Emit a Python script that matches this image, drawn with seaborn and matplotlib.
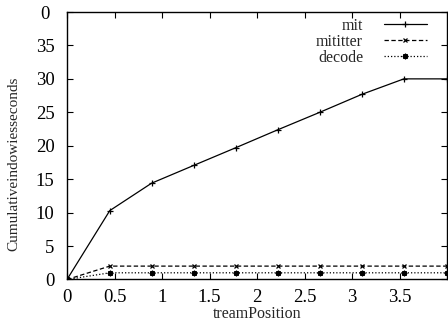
import numpy as np
import pandas as pd
import matplotlib
matplotlib.use("Agg")
import matplotlib.pyplot as plt
import matplotlib.transforms as mtransforms
import seaborn as sns

# values
position = [0, 0.45, 0.89, 1.335, 1.775, 2.22, 2.66, 3.105, 3.545, 4.0]
mit = [0, 10.3, 14.4, 17.07, 19.7, 22.4, 25.0, 27.7, 30.0, 30.0]
mititter = [0, 2.0, 2.0, 2.0, 2.0, 2.0, 2.0, 2.0, 2.0, 2.0]
decode = [0, 1.0, 1.0, 1.0, 1.0, 1.0, 1.0, 1.0, 1.0, 1.0]

xticks = [0, 0.5, 1, 1.5, 2, 2.5, 3, 3.5]
xticklabels = ["0", "0.5", "1", "1.5", "2", "2.5", "3", "3.5"]
yticks = [0, 5, 10, 15, 20, 25, 30, 35, 40]
yticklabels = ["0", "5", "10", "15", "20", "25", "30", "35", "0"]

sns.set_style("ticks")
plt.rcParams['font.family'] = ['Liberation Serif', 'DejaVu Serif']
plt.rcParams['font.size'] = 11.5

fig = plt.figure(figsize=(4.48, 3.27), dpi=100)
ax = fig.add_axes([0.1496, 0.1453, 0.998 - 0.1496, 0.9633 - 0.1453])

df = pd.DataFrame({'pos': position, 'mit': mit, 'mititter': mititter, 'decode': decode})

common = dict(ax=ax, color='black', lw=0.9, mec='black', mew=0.9)
sns.lineplot(data=df, x='pos', y='mit', marker='+', markersize=4.5,
             label='mit', **common)
sns.lineplot(data=df, x='pos', y='mititter', marker='x', markersize=3.5,
             dashes=(3.5, 2), label='mititter', **common)
sns.lineplot(data=df, x='pos', y='decode', marker=(8, 2, 0), markersize=4,
             dashes=(1, 1.6), label='decode', **common)

ax.set_xlim(0, 4)
ax.set_ylim(0, 40)
ax.set_xticks(xticks)
ax.set_xticklabels(xticklabels)
ax.set_yticks(yticks)
ax.set_yticklabels(yticklabels)
ax.tick_params(direction='in', top=True, right=True, length=4, width=0.8,
               labelsize=13.5, colors='black')
ax.tick_params(axis='x', pad=7)
ax.tick_params(axis='y', pad=9)
# top label sits a bit left of the others in the original
top_lbl = ax.get_yticklabels()[-1]
top_lbl.set_transform(top_lbl.get_transform() +
                      mtransforms.ScaledTranslation(-5 / 100, 0, fig.dpi_scale_trans))
for s in ax.spines.values():
    s.set_linewidth(1.0)
    s.set_color('black')

ax.set_xlabel('treamPosition', fontsize=11.5, labelpad=0)
ax.set_ylabel('Cumulativeindowiesseconds', fontsize=11)
ax.yaxis.set_label_coords(-0.123, 0.432)

leg = ax.legend(loc='upper right', bbox_to_anchor=(0.947, 0.978), frameon=False,
                markerfirst=False, handlelength=2.7, handletextpad=1.3,
                labelspacing=0.0, fontsize=11.5, borderpad=0, borderaxespad=0)

fig.savefig('out.png', dpi=100)
